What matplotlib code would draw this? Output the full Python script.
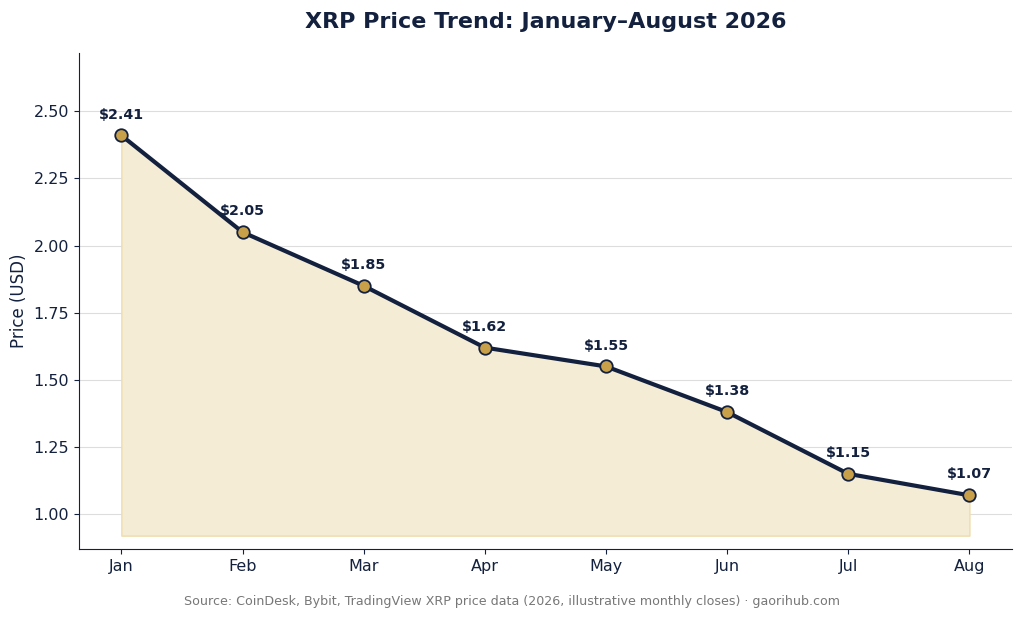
import matplotlib
matplotlib.use("Agg")
import matplotlib.pyplot as plt

months = ["Jan", "Feb", "Mar", "Apr", "May", "Jun", "Jul", "Aug"]
prices = [2.41, 2.05, 1.85, 1.62, 1.55, 1.38, 1.15, 1.07]
yticks = [1.00, 1.25, 1.50, 1.75, 2.00, 2.25, 2.50]

navy = "#13213f"
gold = "#c9a04a"

fig = plt.figure(figsize=(10.24, 6.19), dpi=100)
ax = fig.add_axes([0.0771, 0.113, 0.911, 0.801])
x = list(range(len(months)))
ax.fill_between(x, prices, 0.92, color="#f5ecd6", edgecolor="#efdcaa", linewidth=1, zorder=1)
ax.plot(x, prices, color=navy, linewidth=3, marker="o", markersize=9,
        markerfacecolor=gold, markeredgecolor=navy, markeredgewidth=1.3, zorder=3)
for xi, p in zip(x, prices):
    ax.annotate(f"${p:.2f}", (xi, p), xytext=(0, 10), textcoords="offset points",
                ha="center", va="bottom", fontsize=10.3, fontweight="bold", color=navy)
ax.set_xlim(-0.35, 7.35)
ax.set_ylim(0.87, 2.716)
ax.set_xticks(x)
ax.set_xticklabels(months)
ax.set_yticks(yticks)
ax.set_yticklabels([f"{t:.2f}" for t in yticks])
ax.tick_params(colors=navy, labelsize=11.5)
ax.grid(axis="y", color="#dddddd", linewidth=0.8, zorder=0)
ax.set_axisbelow(True)
for s in ["top", "right"]:
    ax.spines[s].set_visible(False)
for s in ["left", "bottom"]:
    ax.spines[s].set_color(navy)
ax.set_ylabel("Price (USD)", fontsize=12, color=navy)
fig.text(0.533, 0.965, "XRP Price Trend: January\u2013August 2026", ha="center", va="center",
         fontsize=16, fontweight="bold", color=navy)
fig.text(0.5, 0.028, "Source: CoinDesk, Bybit, TradingView XRP price data (2026, illustrative monthly closes) \u00b7 gaorihub.com",
         ha="center", va="center", fontsize=9.1, color="#777777")
fig.savefig("out.png", dpi=100)
